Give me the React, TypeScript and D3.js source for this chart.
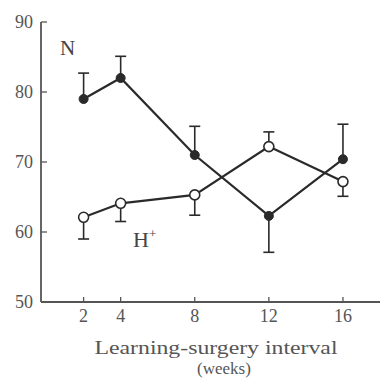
import React from "react";
import * as d3 from "d3";

const weeks = [2, 4, 8, 12, 16];
const nValues = [79, 82, 71, 62.3, 70.4];
const nErrors = [3.7, 3.1, 4.1, -5.2, 5.0];
const hValues = [62.1, 64.1, 65.3, 72.2, 67.2];
const hErrors = [-3.1, -2.6, -2.9, 2.1, -2.1];
const xTicks = [2, 4, 8, 12, 16];
const yTicks = [50, 60, 70, 80, 90];

const W = 384;
const H = 381;
const ink = "#2a2a2a";
const axisInk = "#555";
const font = "'Liberation Serif', 'DejaVu Serif', serif";

export default function App() {
  const x = d3.scaleLinear().domain([-0.3, 18]).range([41, 380]);
  const y = d3.scaleLinear().domain([50, 90]).range([302, 22]);
  const line = d3
    .line<number>()
    .x((_, i) => x(weeks[i]))
    .y((d) => y(d));

  const errBar = (vals: number[], errs: number[], key: string) =>
    vals.map((v, i) => {
      const cx = x(weeks[i]);
      const y1 = y(v);
      const y2 = y(v + errs[i]);
      return (
        <g key={key + i} stroke={ink} strokeWidth={1.6}>
          <line x1={cx} x2={cx} y1={y1} y2={y2} />
          <line x1={cx - 5.5} x2={cx + 5.5} y1={y2} y2={y2} />
        </g>
      );
    });

  return (
    <svg
      width={W}
      height={H}
      style={{ position: "absolute", left: 0, top: 0, background: "#fff" }}
      fontFamily={font}
    >
      {/* axes */}
      <line x1={x(-0.3)} x2={x(-0.3)} y1={y(90)} y2={y(50)} stroke={axisInk} strokeWidth={1.8} />
      <line x1={x(-0.3)} x2={380} y1={y(50)} y2={y(50)} stroke={axisInk} strokeWidth={1.8} />
      {yTicks.map((t) => (
        <g key={"yt" + t}>
          <line x1={x(-0.3)} x2={x(-0.3) + 6} y1={y(t)} y2={y(t)} stroke={axisInk} strokeWidth={1.3} />
          <text x={33} y={y(t) + 6} textAnchor="end" fontSize={18} fill="#555">
            {t}
          </text>
        </g>
      ))}
      {xTicks.map((t) => (
        <g key={"xt" + t}>
          <line x1={x(t)} x2={x(t)} y1={y(50)} y2={y(50) - 5} stroke={axisInk} strokeWidth={1.3} />
          <text x={x(t)} y={322} textAnchor="middle" fontSize={18} fill="#555">
            {t}
          </text>
        </g>
      ))}
      <text x={216} y={354} textAnchor="middle" fontSize={18} fill="#555" textLength={243} lengthAdjust="spacingAndGlyphs">
        Learning-surgery interval
      </text>
      <text x={224} y={374} textAnchor="middle" fontSize={17} fill="#555">
        (weeks)
      </text>

      {/* error bars */}
      {errBar(nValues, nErrors, "ne")}
      {errBar(hValues, hErrors, "he")}

      {/* lines */}
      <path d={line(nValues) || ""} fill="none" stroke={ink} strokeWidth={2.2} />
      <path d={line(hValues) || ""} fill="none" stroke={ink} strokeWidth={2.2} />

      {/* markers */}
      {nValues.map((v, i) => (
        <circle key={"n" + i} cx={x(weeks[i])} cy={y(v)} r={4.5} fill={ink} stroke={ink} strokeWidth={1} />
      ))}
      {hValues.map((v, i) => (
        <circle key={"h" + i} cx={x(weeks[i])} cy={y(v)} r={5} fill="#fff" stroke={ink} strokeWidth={1.6} />
      ))}

      {/* labels */}
      <text x={60} y={55} fontSize={21} fill="#444">
        N
      </text>
      <text x={133} y={247} fontSize={22} fill="#444">
        H
        <tspan dy={-9} fontSize={13}>
          +
        </tspan>
      </text>
    </svg>
  );
}
